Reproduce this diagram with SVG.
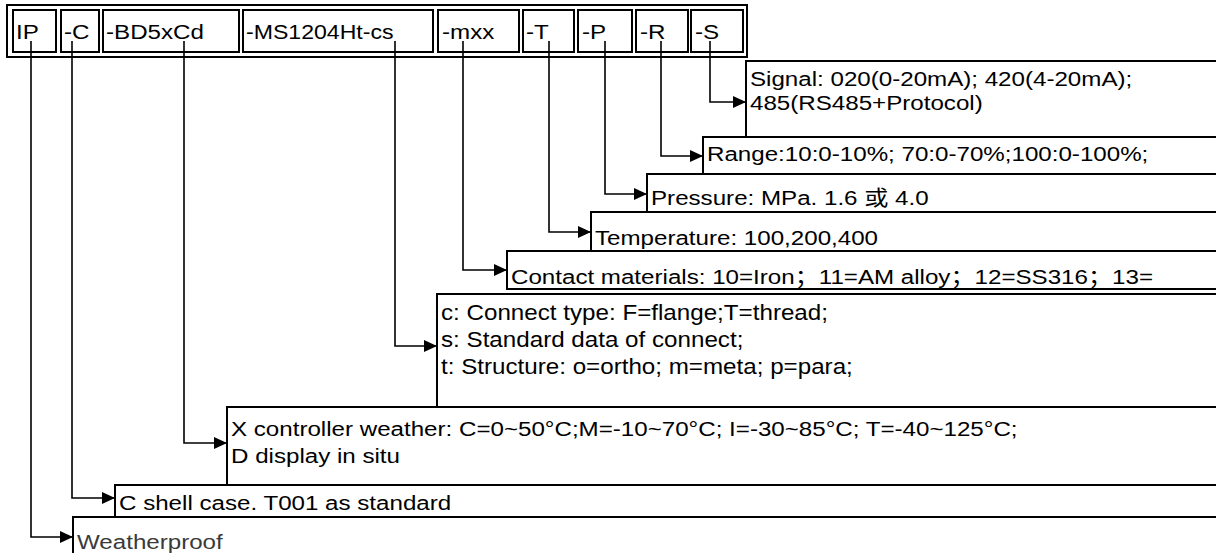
<svg xmlns="http://www.w3.org/2000/svg" width="1216" height="553" viewBox="0 0 1216 553">
<style>
.t{font-family:"Liberation Sans",Arial,"Noto Sans CJK SC",sans-serif;font-size:21px;fill:#000}
.g{fill:#3a3a3a}
.box{fill:#fff;stroke:#000;stroke-width:2}
.cell{fill:none;stroke:#000;stroke-width:2}
.edge{fill:none;stroke:#000;stroke-width:2}
</style>
<defs>
<marker id="arr" markerUnits="userSpaceOnUse" markerWidth="14" markerHeight="13" refX="13" refY="6" orient="auto">
<path d="M0,0 L13,6 L0,12 z" fill="#000"/>
</marker>
<clipPath id="clipContact"><rect x="507" y="251" width="720" height="38"/></clipPath>
</defs>
<rect width="1216" height="553" fill="#fff"/>
<g id="code-table">
<rect class="cell" x="7" y="5" width="740" height="52"/>
<rect class="cell" x="13" y="10" width="43" height="42"/>
<rect class="cell" x="61" y="10" width="38" height="42"/>
<rect class="cell" x="103" y="10" width="136" height="42"/>
<rect class="cell" x="243" y="10" width="190" height="42"/>
<rect class="cell" x="438" y="10" width="81" height="42"/>
<rect class="cell" x="523" y="10" width="51" height="42"/>
<rect class="cell" x="578" y="10" width="54" height="42"/>
<rect class="cell" x="636" y="10" width="52" height="42"/>
<rect class="cell" x="691" y="10" width="52" height="42"/>
<text class="t" transform="translate(16,39) scale(1.15,1)">IP</text>
<text class="t" transform="translate(64,39) scale(1.15,1)">-C</text>
<text class="t" transform="translate(106,39) scale(1.15,1)">-BD5xCd</text>
<text class="t" transform="translate(246,39) scale(1.1,1)">-MS1204Ht-cs</text>
<text class="t" transform="translate(442,39) scale(1.15,1)">-mxx</text>
<text class="t" transform="translate(526,39) scale(1.15,1)">-T</text>
<text class="t" transform="translate(582,39) scale(1.15,1)">-P</text>
<text class="t" transform="translate(640,39) scale(1.15,1)">-R</text>
<text class="t" transform="translate(695,39) scale(1.15,1)">-S</text>
</g>
<g id="signal">
<rect class="box" x="746" y="61" width="480" height="76"/>
<text class="t" transform="translate(750,86) scale(1.15,1)"><tspan x="0" y="0">Signal: 020(0-20mA); 420(4-20mA);</tspan><tspan x="0" y="24">485(RS485+Protocol)</tspan></text>
</g>
<g id="range">
<rect class="box" x="703" y="137" width="520" height="37"/>
<text class="t" transform="translate(707,161) scale(1.15,1)">Range:10:0-10%; 70:0-70%;100:0-100%;</text>
</g>
<g id="pressure">
<rect class="box" x="647" y="174" width="580" height="38"/>
<text class="t" transform="translate(651,205) scale(1.15,1)">Pressure: MPa. 1.6 或 4.0</text>
</g>
<g id="temperature">
<rect class="box" x="591" y="212" width="640" height="39"/>
<text class="t" transform="translate(595,245) scale(1.15,1)">Temperature: 100,200,400</text>
</g>
<g id="contact">
<rect class="box" x="507" y="251" width="720" height="38"/>
<g clip-path="url(#clipContact)">
<text class="t" transform="translate(511,284) scale(1.15,1)">Contact materials: 10=Iron；11=AM alloy；12=SS316；13=</text>
</g>
<rect class="edge" x="507" y="251" width="720" height="38"/>
</g>
<g id="connect">
<rect class="box" x="437" y="294" width="790" height="113"/>
<text class="t" style="font-size:22.5px" transform="translate(441,320) scale(1.075,1)"><tspan x="0" y="0">c: Connect type: F=flange;T=thread;</tspan><tspan x="0" y="27">s: Standard data of connect;</tspan><tspan x="0" y="54">t: Structure: o=ortho; m=meta; p=para;</tspan></text>
</g>
<g id="controller">
<rect class="box" x="227" y="407" width="1000" height="78"/>
<text class="t" transform="translate(231,436) scale(1.15,1)"><tspan x="0" y="0">X controller weather: C=0~50°C;M=-10~70°C; I=-30~85°C; T=-40~125°C;</tspan><tspan x="0" y="27">D display in situ</tspan></text>
</g>
<g id="shell">
<rect class="box" x="115" y="485" width="1110" height="32"/>
<text class="t" transform="translate(119,510) scale(1.15,1)">C shell case. T001 as standard</text>
</g>
<g id="weatherproof">
<rect class="box" x="73" y="517" width="1160" height="50"/>
<text class="t g" transform="translate(77,549) scale(1.15,1)">Weatherproof</text>
</g>
<g id="connectors" fill="none" stroke="#000" stroke-width="1.6">
<path d="M710,41 V102 H746" marker-end="url(#arr)"/>
<path d="M661,41 V156 H703" marker-end="url(#arr)"/>
<path d="M605,41 V194 H647" marker-end="url(#arr)"/>
<path d="M549,41 V232 H591" marker-end="url(#arr)"/>
<path d="M463,41 V270 H507" marker-end="url(#arr)"/>
<path d="M395,41 V346 H437" marker-end="url(#arr)"/>
<path d="M184,41 V443 H227" marker-end="url(#arr)"/>
<path d="M72,41 V498 H115" marker-end="url(#arr)"/>
<path d="M31,41 V537 H73" marker-end="url(#arr)"/>
</g>
</svg>
